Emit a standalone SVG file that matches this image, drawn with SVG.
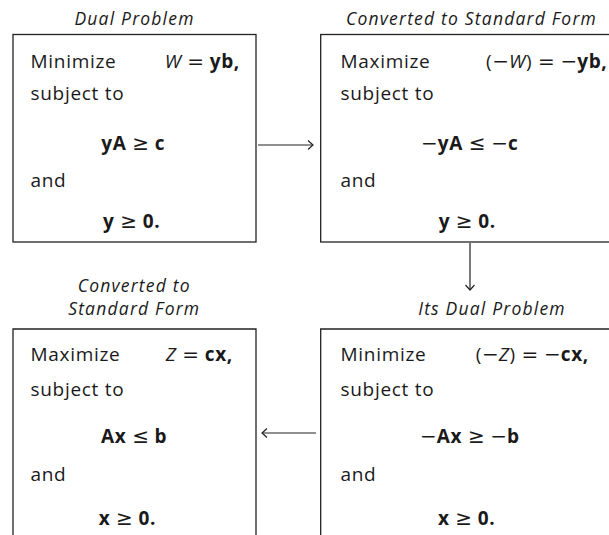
<svg xmlns="http://www.w3.org/2000/svg" width="609" height="535" viewBox="0 0 609 535">
<defs>
<style>
text{font-family:"Open Sans","Noto Sans","DejaVu Sans",sans-serif;fill:#1a1a1a}
.t{font-size:17.5px;font-style:italic;text-anchor:middle;letter-spacing:1.2px}
.r{font-size:19px;letter-spacing:0.7px}
.m{text-anchor:middle}
.e{text-anchor:end}
.b{font-weight:bold}
.i{font-style:italic}
.o{font-family:"DejaVu Sans",sans-serif;font-weight:normal;font-size:20px;letter-spacing:0}
.box{fill:none;stroke:#222;stroke-width:1.3}
.c{fill:none;stroke:#222;stroke-width:1.2}
</style>
<marker id="ah" markerWidth="12" markerHeight="12" refX="6" refY="5" orient="auto" markerUnits="userSpaceOnUse">
<path d="M1,0.5 L6,5 L1,9.5" fill="none" stroke="#222" stroke-width="1.2"/>
</marker>
</defs>
<rect width="609" height="535" fill="#fff"/>

<g id="dual-problem">
<text class="t" x="134.5" y="24.5">Dual Problem</text>
<rect class="box" x="13" y="34.5" width="243" height="207.5"/>
<text class="r" x="30.5" y="67.5">Minimize</text>
<text class="r e" x="240" y="67.5"><tspan class="i">W</tspan> <tspan class="o">=</tspan> <tspan class="b">yb,</tspan></text>
<text class="r" x="30.5" y="99.5">subject to</text>
<text class="r m" x="133.3" y="150"><tspan class="b">yA</tspan> <tspan class="o">≥</tspan> <tspan class="b">c</tspan></text>
<text class="r" x="30.5" y="187">and</text>
<text class="r m" x="131.7" y="228"><tspan class="b">y</tspan> <tspan class="o">≥</tspan> <tspan class="b">0.</tspan></text>
</g>

<g id="converted-primal">
<text class="t" x="471.5" y="24.5">Converted to Standard Form</text>
<rect class="box" x="320.7" y="34.5" width="300" height="207.5"/>
<text class="r" x="340.5" y="67.5">Maximize</text>
<text class="r e" x="607.5" y="67.5">(<tspan class="o">−</tspan><tspan class="i">W</tspan>) <tspan class="o">=</tspan> <tspan class="o">−</tspan><tspan class="b">yb,</tspan></text>
<text class="r" x="340.5" y="99.5">subject to</text>
<text class="r m" x="469.7" y="150"><tspan class="o">−</tspan><tspan class="b">yA</tspan> <tspan class="o">≤</tspan>  <tspan class="o">−</tspan><tspan class="b">c</tspan></text>
<text class="r" x="340.5" y="187">and</text>
<text class="r m" x="467.3" y="228"><tspan class="b">y</tspan> <tspan class="o">≥</tspan> <tspan class="b">0.</tspan></text>
</g>

<g id="its-dual">
<text class="t" x="492" y="315">Its Dual Problem</text>
<path class="box" d="M320.7,540 V329 H620"/>
<text class="r" x="340.5" y="361">Minimize</text>
<text class="r e" x="589" y="361">(<tspan class="o">−</tspan><tspan class="i">Z</tspan>) <tspan class="o">=</tspan> <tspan class="o">−</tspan><tspan class="b">cx,</tspan></text>
<text class="r" x="340.5" y="396">subject to</text>
<text class="r m" x="469.9" y="443"><tspan class="o">−</tspan><tspan class="b">Ax</tspan> <tspan class="o">≥</tspan> <tspan class="o">−</tspan><tspan class="b">b</tspan></text>
<text class="r" x="340.5" y="481">and</text>
<text class="r m" x="466.7" y="525"><tspan class="b">x</tspan> <tspan class="o">≥</tspan> <tspan class="b">0.</tspan></text>
</g>

<g id="converted-dual">
<text class="t" x="134.2" y="291.7">Converted to</text>
<text class="t" x="134.2" y="315">Standard Form</text>
<path class="box" d="M13,540 V329 H256 V540"/>
<text class="r" x="30.5" y="361">Maximize</text>
<text class="r e" x="233" y="361"><tspan class="i">Z</tspan> <tspan class="o">=</tspan> <tspan class="b">cx,</tspan></text>
<text class="r" x="30.5" y="396">subject to</text>
<text class="r m" x="134.2" y="443"><tspan class="b">Ax</tspan> <tspan class="o">≤</tspan>  <tspan class="b">b</tspan></text>
<text class="r" x="30.5" y="481">and</text>
<text class="r m" x="127.5" y="525"><tspan class="b">x</tspan> <tspan class="o">≥</tspan> <tspan class="b">0.</tspan></text>
</g>

<g id="connectors">
<line class="c" x1="258" y1="145" x2="313" y2="145" marker-end="url(#ah)"/>
<line class="c" x1="470" y1="243" x2="470" y2="290" marker-end="url(#ah)"/>
<line class="c" x1="316" y1="433" x2="262" y2="433" marker-end="url(#ah)"/>
</g>
</svg>
